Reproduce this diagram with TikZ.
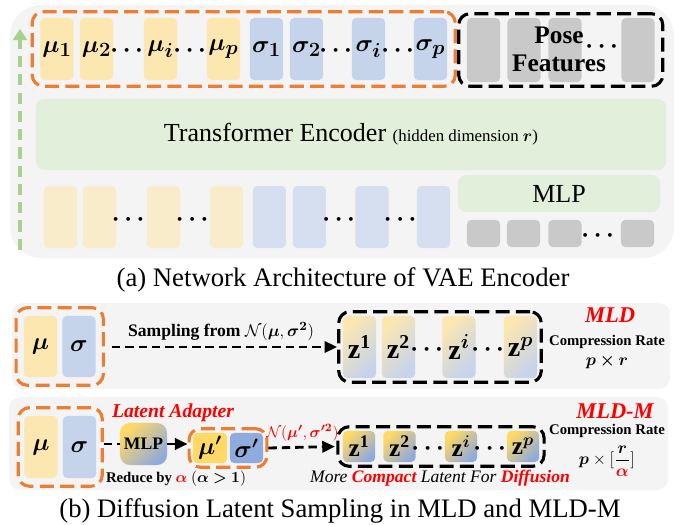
\documentclass[tikz,border=0pt]{standalone}
\usepackage{fontspec}
\setmainfont{Liberation Serif}
\usepackage{amsmath,bm}
\usetikzlibrary{positioning, shapes, arrows.meta, fit}

\definecolor{panelgray}{RGB}{244,244,244}
\definecolor{encgreen}{RGB}{226,239,218}
\definecolor{muyellow}{RGB}{252,231,176}
\definecolor{sigblue}{RGB}{197,211,235}
\definecolor{muyellowlt}{RGB}{248,236,202}
\definecolor{sigbluelt}{RGB}{214,223,239}
\definecolor{posegray}{RGB}{201,201,201}
\definecolor{grporange}{RGB}{237,125,49}
\definecolor{arrowgreen}{RGB}{169,209,142}
\definecolor{zgold}{RGB}{255,217,102}
\definecolor{zblue}{RGB}{143,170,220}
\definecolor{mldred}{RGB}{255,0,0}

\begin{document}
\begin{tikzpicture}[x=0.025cm, y=-0.025cm, every node/.style={font=\fontsize{18.5}{21}\selectfont}]
  % Styles
  \tikzset{
    panel/.style={rectangle, rounded corners=8pt, fill=panelgray, inner sep=0pt},
    encbox/.style={rectangle, rounded corners=6pt, fill=encgreen, inner sep=0pt},
    tok/.style={rectangle, rounded corners=3pt, minimum width=8.25mm, minimum height=15.5mm, inner sep=0pt, font=\fontsize{19}{21}\selectfont},
    mutok/.style={tok, fill=muyellow},
    sigtok/.style={tok, fill=sigblue},
    mutoklt/.style={tok, fill=muyellowlt},
    sigtoklt/.style={tok, fill=sigbluelt},
    posetok/.style={tok, fill=posegray, minimum height=16mm},
    feattok/.style={tok, fill=posegray, minimum height=6.75mm},
    ztok/.style={tok, left color=muyellow, right color=sigblue, shading angle=45, font=\fontsize{20}{22}\selectfont},
    ztokhi/.style={tok, left color=zgold, right color=zblue, shading angle=45, minimum width=8mm, minimum height=7.75mm, font=\fontsize{18}{20}\selectfont},
    dots/.style={inner sep=0pt, font=\fontsize{18}{20}\selectfont},
    ogroup/.style={draw=grporange, line width=2.2pt, dash pattern=on 10pt off 4.5pt, rounded corners=8pt},
    bgroup/.style={draw=black, line width=2.2pt, dash pattern=on 10pt off 4.5pt, rounded corners=8pt},
    flow/.style={line width=2pt, dash pattern=on 6pt off 3.5pt, -{Triangle[length=9pt, width=8pt]}},
    solidflow/.style={line width=2pt, -{Triangle[length=9pt, width=8pt]}},
    upflow/.style={draw=arrowgreen, line width=3.5pt, dash pattern=on 8pt off 5pt, -{Triangle[length=8pt, width=10pt]}},
    tag/.style={text=mldred, font=\fontsize{16}{18}\selectfont\bfseries\itshape},
    note/.style={inner sep=1pt, font=\fontsize{10.5}{12}\selectfont\bfseries},
    caption/.style={font=\fontsize{19}{21}\selectfont}
  }
  \useasboundingbox (0,0) rectangle (686,525);

  % (a) VAE encoder panel
  \node[panel, rounded corners=22pt, minimum width=166mm, minimum height=63.25mm] (pa) at (342,131.5) {};
  \node[encbox, minimum width=157.5mm, minimum height=17.75mm] (enc) at (351,134.5)
    {Transformer Encoder {\fontsize{12}{14}\selectfont(hidden dimension $\bm{r}$)}};
  \node[encbox, minimum width=50.5mm, minimum height=9.25mm] (mlp) at (559,193.5) {MLP};

  % Latent tokens (top row)
  \node[mutok] (mu1) at (57,49) {$\bm{\mu_1}$};
  \node[mutok] (mu2) at (96.5,49) {$\bm{\mu_2}$};
  \node[dots] (td1) at (129,51) {$\bm{\cdots}$};
  \node[mutok] (mui) at (160.5,49) {$\bm{\mu_i}$};
  \node[dots] (td2) at (192,51) {$\bm{\cdots}$};
  \node[mutok] (mup) at (223.5,49) {$\bm{\mu_p}$};
  \node[sigtok] (sig1) at (266.5,49) {$\bm{\sigma_1}$};
  \node[sigtok] (sig2) at (306.5,49) {$\bm{\sigma_2}$};
  \node[dots] (td3) at (338,51) {$\bm{\cdots}$};
  \node[sigtok] (sigi) at (368.5,49) {$\bm{\sigma_i}$};
  \node[dots] (td4) at (400,51) {$\bm{\cdots}$};
  \node[sigtok] (sigp) at (430.5,49) {$\bm{\sigma_p}$};
  \node[ogroup, fit=(mu1)(sigp), inner xsep=0.2cm, inner ysep=0.15cm] (latgrp) {};

  % Pose feature tokens
  \node[posetok] (pf1) at (483.5,50) {};
  \node[posetok] (pf2) at (524,50) {};
  \node[posetok] (pf3) at (565,50) {};
  \node[dots] (td5) at (604,47) {$\bm{\cdots}$};
  \node[posetok] (pf4) at (638,50) {};
  \node[align=center, font=\fontsize{18}{20}\selectfont\bfseries] (posetxt) at (559,49) {Pose\\Features};
  \node[bgroup, fit=(pf1)(pf4), inner xsep=0.2cm, inner ysep=0.1cm] (posegrp) {};

  % Input tokens (bottom row)
  \node[mutoklt] (in1) at (60.5,217) {};
  \node[mutoklt] (in2) at (99.5,217) {};
  \node[dots] (bd1) at (130.5,220) {$\bm{\cdots}$};
  \node[mutoklt] (in3) at (163.5,217) {};
  \node[dots] (bd2) at (194.5,220) {$\bm{\cdots}$};
  \node[mutoklt] (in4) at (226.5,217) {};
  \node[sigtoklt] (in5) at (269.5,217) {};
  \node[sigtoklt] (in6) at (309.5,217) {};
  \node[dots] (bd3) at (341,220) {$\bm{\cdots}$};
  \node[sigtoklt] (in7) at (372,217) {};
  \node[dots] (bd4) at (402.5,220) {$\bm{\cdots}$};
  \node[sigtoklt] (in8) at (433.5,217) {};
  \node[feattok] (ft1) at (483.5,233.5) {};
  \node[feattok] (ft2) at (523.5,233.5) {};
  \node[feattok] (ft3) at (565,233.5) {};
  \node[dots] (bd5) at (600,236) {$\bm{\cdots}$};
  \node[feattok] (ft4) at (637.5,233.5) {};

  \coordinate (upstart) at (20,250);
  \coordinate (upend) at (20,29);
  \draw[upflow] (upstart) -- (upend);

  \node[caption] (capa) at (343,280) {(a) Network Architecture of VAE Encoder};

  % (b) MLD sampling
  \node[panel, minimum width=164.5mm, minimum height=21.5mm] (pb1) at (341,346) {};
  \node[mutok, minimum height=15.25mm] (bmu) at (40.5,346.5) {$\bm{\mu}$};
  \node[sigtok, minimum height=15.25mm] (bsig) at (79,346.5) {$\bm{\sigma}$};
  \node[ogroup, fit=(bmu)(bsig), inner xsep=0.19cm, inner ysep=0.2cm] (g1) {};

  \node[ztok] (z1) at (359.5,347) {$\mathbf{z}^{\mathbf{1}}$};
  \node[ztok] (z2) at (398.5,347) {$\mathbf{z}^{\mathbf{2}}$};
  \node[dots] (zd1) at (429,350) {$\bm{\cdots}$};
  \node[ztok] (zi) at (459,347) {$\mathbf{z}^{\bm{i}}$};
  \node[dots] (zd2) at (490,350) {$\bm{\cdots}$};
  \node[ztok] (zp) at (520.5,347) {$\mathbf{z}^{\bm{p}}$};
  \node[bgroup, fit=(z1)(zp), inner xsep=0.1cm, inner ysep=0.1cm] (zg1) {};

  \draw[flow, shorten <=5pt] (g1.east |- zg1.west) -- (zg1.west)
    node[midway, above, font=\fontsize{12.5}{14}\selectfont\bfseries] {Sampling from $\mathcal{N}(\bm{\mu},\bm{\sigma^2})$};

  \node[tag] (mld) at (610,315) {MLD};
  \node[note] (rate1) at (607,342) {Compression Rate};
  \node[note, font=\fontsize{13}{15}\selectfont] (rv1) at (607,362) {$\bm{p\times r}$};

  % (b) MLD-M sampling
  \node[panel, minimum width=164.75mm, minimum height=23.25mm] (pb2) at (338.5,443.5) {};
  \node[mutok, minimum height=15.5mm] (cmu) at (41,447) {$\bm{\mu}$};
  \node[sigtok, minimum height=15.5mm] (csig) at (79.5,447) {$\bm{\sigma}$};
  \node[ogroup, fit=(cmu)(csig), inner xsep=0.15cm, inner ysep=0.2cm] (g2) {};

  \node[tag, font=\fontsize{14}{16}\selectfont\bfseries\itshape] (adtxt) at (173,413) {Latent Adapter};
  \node[ztokhi, minimum width=11.75mm, minimum height=10.5mm, rounded corners=7pt, font=\fontsize{12.5}{14}\selectfont\bfseries] (adapt) at (143.5,444) {MLP};
  \node[note] (reduce) at (176,479) {Reduce by {\color{mldred}$\bm{\alpha}$} $(\bm{\alpha>1})$};

  \node[tok, fill=zgold, minimum width=8.5mm, minimum height=7.5mm, font=\fontsize{18}{20}\selectfont] (mup2) at (210,448) {$\bm{\mu'}$};
  \node[tok, fill=zblue, minimum width=8.25mm, minimum height=7.5mm, font=\fontsize{18}{20}\selectfont] (sigp2) at (246.5,448) {$\bm{\sigma'}$};
  \node[ogroup, fit=(mup2)(sigp2), inner xsep=0.09cm, inner ysep=0.1cm] (g3) {};

  \node[ztokhi] (y1) at (359,446.5) {$\mathbf{z}^{\mathbf{1}}$};
  \node[ztokhi] (y2) at (399.5,446.5) {$\mathbf{z}^{\mathbf{2}}$};
  \node[dots] (yd1) at (430,449) {$\bm{\cdots}$};
  \node[ztokhi] (yi) at (461,446.5) {$\mathbf{z}^{\bm{i}}$};
  \node[dots] (yd2) at (492,449) {$\bm{\cdots}$};
  \node[ztokhi] (yp) at (523,446.5) {$\mathbf{z}^{\bm{p}}$};
  \node[bgroup, fit=(y1)(yp), inner xsep=0.12cm, inner ysep=0.1cm] (zg2) {};

  \draw[line width=2pt, dash pattern=on 6pt off 3.5pt] (g2.east |- adapt.west) -- (adapt.west);
  \draw[solidflow] (adapt.east) -- (adapt.east -| g3.west);
  \draw[flow, shorten >=1pt] (g3.east) -- (zg2.west)
    node[midway, above, text=mldred, font=\fontsize{11}{13}\selectfont\bfseries] {$\mathcal{N}(\bm{\mu'},\bm{\sigma'^2})$};

  \node[font=\fontsize{12.5}{14}\selectfont\itshape] (compact) at (440,478)
    {More {\color{mldred}\bfseries Compact} Latent For {\color{mldred}\bfseries Diffusion}};

  \node[tag] (mldm) at (615,411) {MLD-M};
  \node[note] (rate2) at (607,431) {Compression Rate};
  \node[note, font=\fontsize{12.5}{14}\selectfont] (rv2) at (607,461) {$\bm{p}\times[\dfrac{\bm{r}}{\color{mldred}\bm{\alpha}}]$};

  \node[caption] (capb) at (340,511) {(b) Diffusion Latent Sampling in MLD and MLD-M};
\end{tikzpicture}
\end{document}
